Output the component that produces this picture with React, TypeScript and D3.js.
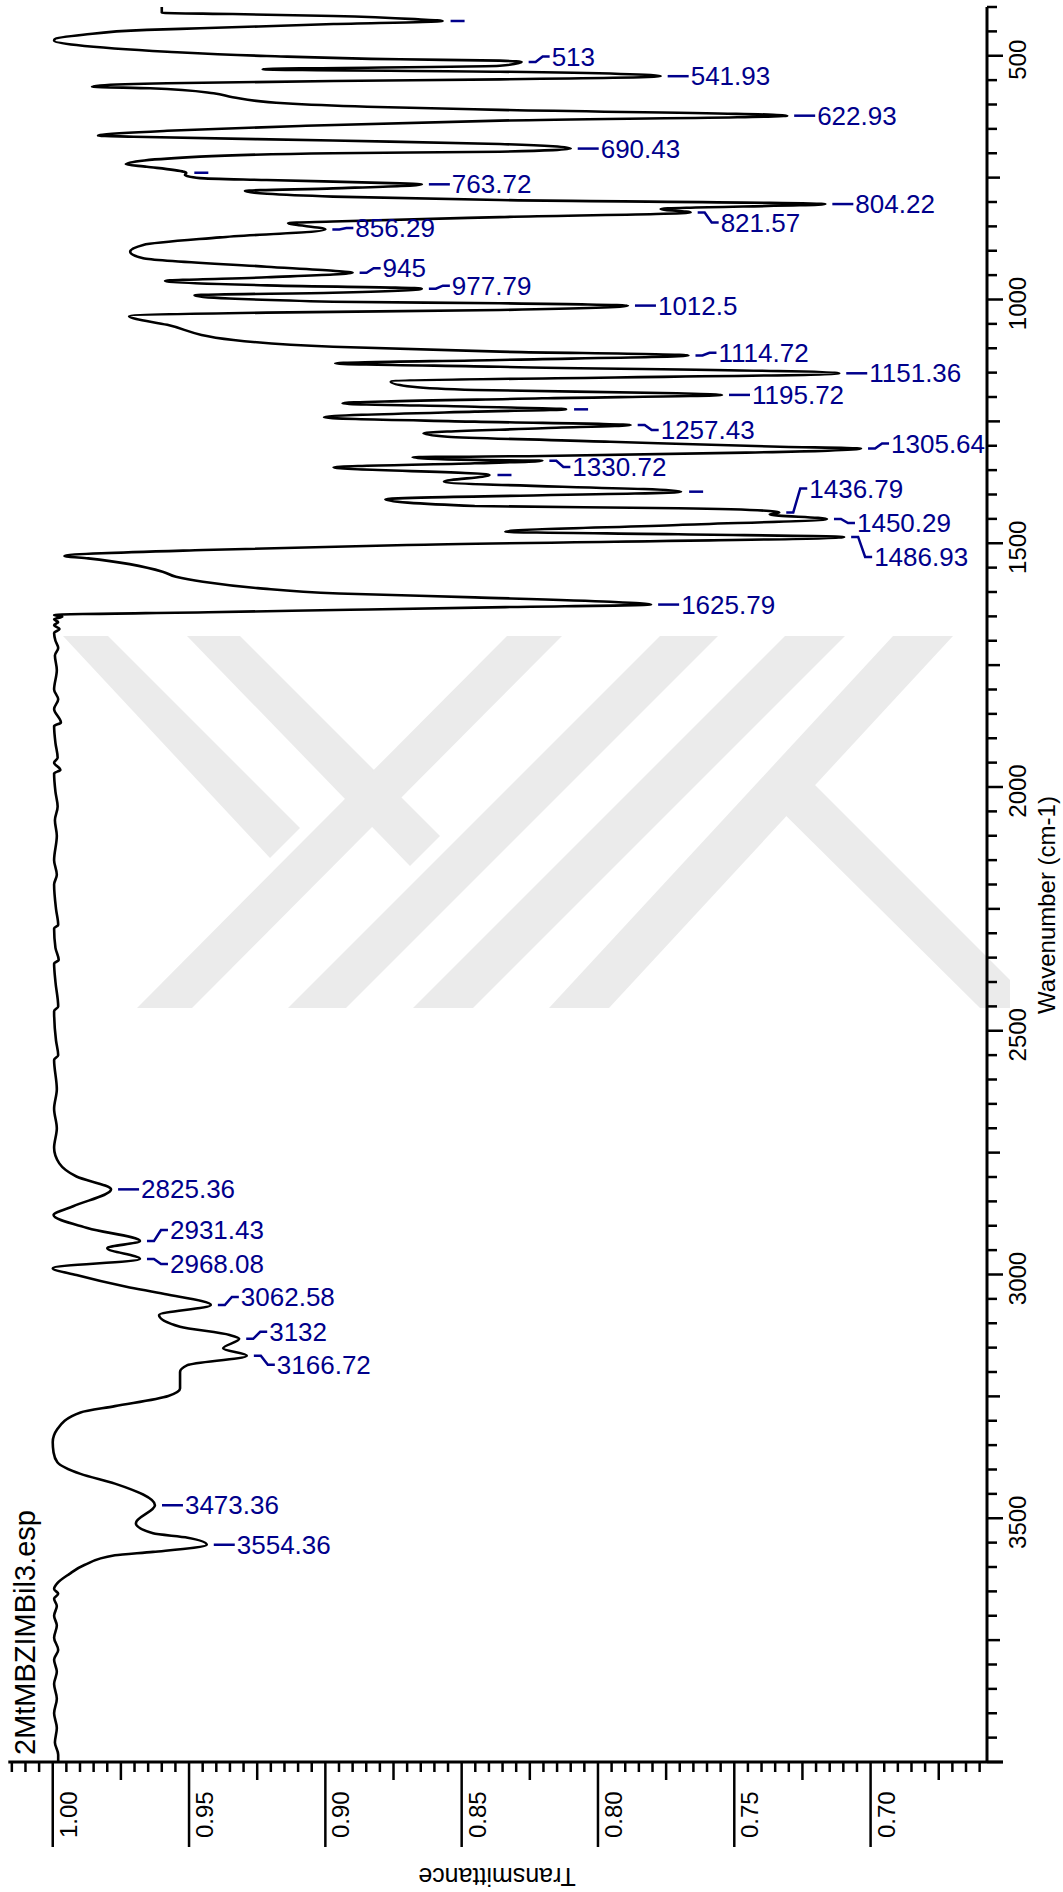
import React from "react";
import * as d3 from "d3";

const W = 1063;
const H = 1892;

// ---- spectrum data: [wavenumber (cm-1), transmittance] ----
const fingerprintA: [number, number][] = [
  [400, 0.96], [412, 0.96], [414.4, 0.934], [418.5, 0.897], [425.3, 0.866], [428.7, 0.857],
  [435, 0.897], [443.7, 0.946], [447, 0.9655], [457, 0.9888], [466, 0.9993], [469, 0.9995],
  [478, 0.9913], [491.7, 0.958], [500.5, 0.9215], [507.3, 0.8726], [510, 0.836], [513, 0.828],
  [520.4, 0.836], [527.8, 0.923], [532.7, 0.836], [541.93, 0.777], [548.4, 0.836], [551.8, 0.897],
  [556.5, 0.958], [561, 0.9826], [563.5, 0.9856], [566.8, 0.9643], [577, 0.941], [585, 0.934],
  [597.5, 0.915], [604.5, 0.8847], [611, 0.836], [622.93, 0.7306], [633, 0.836], [644, 0.9093],
  [654, 0.958], [662.6, 0.9826], [664, 0.9834], [666, 0.9704], [674, 0.8972], [681, 0.836],
  [690.43, 0.81], [696.8, 0.836], [700, 0.8972], [707, 0.946], [722.7, 0.9732],
];

const fingerprintB: [number, number][] = [
  [727.6, 0.9655], [737.8, 0.952], [740, 0.951], [744.6, 0.9515], [751, 0.946], [755, 0.9215],
  [761.7, 0.8726], [763.72, 0.8646], [772, 0.8972], [777.4, 0.9295], [789, 0.8972], [796, 0.836],
  [804.22, 0.7166], [814.4, 0.777], [821.57, 0.766], [831, 0.836], [840, 0.8972], [843, 0.9137],
  [856.29, 0.9], [872.5, 0.9386], [888, 0.9668], [902, 0.9716], [915.5, 0.9668], [932.7, 0.9215],
  [941, 0.8972], [945, 0.89], [954.5, 0.9215], [962, 0.9588], [971, 0.9215], [977.79, 0.8646],
  [986, 0.8972], [991.4, 0.948], [1004.5, 0.8972], [1007.8, 0.836], [1012.5, 0.789], [1021.5, 0.836],
  [1027, 0.9215], [1034, 0.972], [1052, 0.958], [1083, 0.9337], [1097, 0.8972], [1107, 0.836],
  [1114.72, 0.7668], [1124, 0.836], [1131, 0.8964], [1138, 0.836], [1151.36, 0.7115],
];

const fingerprintC: [number, number][] = [
  [1168.6, 0.876], [1179, 0.868], [1185.6, 0.845], [1192.4, 0.771], [1195.72, 0.7545],
  [1202.7, 0.8205], [1213, 0.8937], [1220, 0.8452], [1225.3, 0.8117], [1230, 0.8452],
  [1241.7, 0.9005], [1250.6, 0.8452], [1257.43, 0.788], [1264, 0.8204], [1274.6, 0.864],
  [1281.4, 0.8552], [1291.7, 0.7956], [1302, 0.7333], [1305.64, 0.7035], [1314.2, 0.7457],
  [1321, 0.8204], [1323.7, 0.868], [1329, 0.8452], [1330.72, 0.8204], [1336, 0.8452],
  [1344.2, 0.897], [1360, 0.8398], [1373.7, 0.8565], [1394.2, 0.7695], [1409.8, 0.878],
  [1423.6, 0.8452], [1428.3, 0.7706], [1433.8, 0.737], [1436.79, 0.7335], [1441, 0.737],
  [1450.29, 0.716], [1462.6, 0.7706], [1476.3, 0.834], [1481.6, 0.7706], [1486.93, 0.7097],
  [1503.6, 0.8701], [1513.8, 0.9447], [1526, 0.9957], [1531, 0.987], [1558.3, 0.9597],
  [1568.6, 0.9548], [1579, 0.9449], [1592, 0.9248], [1603, 0.895], [1611, 0.8452],
  [1620, 0.7956], [1625.79, 0.7805], [1631, 0.834], [1636.5, 0.891], [1641.5, 0.943],
];

const baselineRegion: [number, number][] = [
  [1647, 0.9995], [1651, 0.9965], [1656, 0.9995], [1662, 0.998], [1668, 0.9995], [1676, 0.9975],
  [1684, 0.9995], [1700, 0.999], [1715, 0.998], [1730, 0.9992], [1760, 0.9985], [1800, 0.9995],
  [1820, 0.998], [1840, 0.9995], [1868, 0.997], [1875, 0.9995], [1910, 0.999], [1940, 0.9982],
  [1950, 0.9995], [1965, 0.9972], [1972, 0.9995], [2010, 0.999], [2040, 0.9982], [2068, 0.9992],
  [2100, 0.9985], [2150, 0.9995], [2180, 0.9985], [2200, 0.9995], [2250, 0.9988], [2283, 0.998],
  [2290, 0.9995], [2330, 0.999], [2355, 0.9978], [2362, 0.9995], [2400, 0.999], [2450, 0.998],
  [2460, 0.9995], [2520, 0.9988], [2550, 0.998], [2560, 0.9995], [2620, 0.9985], [2660, 0.9995],
  [2700, 0.9985], [2740, 0.9995], [2772, 0.9976],
];

const chRegion: [number, number][] = [
  [2799, 0.9913], [2825.36, 0.9786], [2860, 0.9925], [2878, 0.9997], [2905, 0.987],
  [2931.43, 0.968], [2946, 0.98], [2968.08, 0.968], [2987, 1.0], [3001, 0.9913], [3025, 0.973],
  [3040, 0.959], [3062.58, 0.942], [3083, 0.961], [3107, 0.9533], [3124, 0.9351], [3132, 0.9316],
  [3151.5, 0.9375], [3166.72, 0.9288], [3186, 0.9506], [3200, 0.9533], [3234, 0.9533],
  [3249, 0.9576], [3270, 0.9772], [3283, 0.9898], [3317, 0.9983],
];

const ohRegion: [number, number][] = [
  [3344, 1.0], [3365, 0.9997], [3385, 0.9983], [3409, 0.9898], [3429, 0.9772], [3473.36, 0.9625],
  [3510, 0.9695], [3531, 0.9632], [3540, 0.9505], [3554.36, 0.9435], [3569, 0.9632],
  [3576, 0.9772], [3596, 0.9884], [3615, 0.9941], [3633, 0.9983], [3645, 0.9995], [3655, 0.998],
  [3665, 0.9995], [3680, 0.9985], [3700, 0.9995], [3720, 0.9985], [3745, 0.9995], [3770, 0.998],
  [3790, 0.9995], [3815, 0.9985], [3840, 0.9995], [3870, 0.9985], [3900, 0.9995], [3930, 0.9985],
  [3960, 0.9992], [3985, 0.998], [4000, 0.998],
];

// ---- peak annotations ----
const peakWavenumbers = [
  428.7, 513, 541.93, 622.93, 690.43, 740, 763.72, 804.22, 821.57, 856.29, 945, 977.79, 1012.5,
  1114.72, 1151.36, 1195.72, 1225.3, 1257.43, 1305.64, 1330.72, 1360, 1394.2, 1436.79, 1450.29,
  1486.93, 1625.79, 2825.36, 2931.43, 2968.08, 3062.58, 3132, 3166.72, 3473.36, 3554.36,
];
const peakTexts = [
  "", "513", "541.93", "622.93", "690.43", "", "763.72", "804.22", "821.57", "856.29", "945",
  "977.79", "1012.5", "1114.72", "1151.36", "1195.72", "", "1257.43", "1305.64", "1330.72", "", "",
  "1436.79", "1450.29", "1486.93", "1625.79", "2825.36", "2931.43", "2968.08", "3062.58", "3132",
  "3166.72", "3473.36", "3554.36",
];

// vertical offset of each label from its peak tip (layout, px)
const labelShift: Record<string, number> = {
  "513": -5.5, "821.57": 10, "856.29": -1.5, "945": -4.5, "977.79": -3, "1114.72": -2.7,
  "1257.43": 5, "1305.64": -5, "1330.72": 6.3, "1436.79": -24, "1450.29": 4, "1486.93": 20,
  "2931.43": -11, "2968.08": 5, "3062.58": -8, "3132": -7, "3166.72": 9,
};

// ---- axis ticks ----
const wnMajor = [500, 1000, 1500, 2000, 2500, 3000, 3500];
const tMajor = [1.0, 0.95, 0.9, 0.85, 0.8, 0.75, 0.7];

const FONT = "'Liberation Sans', Arial, Helvetica, sans-serif";
const BLUE = "#00008b";

const xScale = d3.scaleLinear().domain([1.0163, 0.6573]).range([8.3, 987]);
const yScale = d3.scaleLinear().domain([400, 4000]).range([7, 1762]);

// watermark bands (layout only)
const watermark: [number, number][][] = [
  [[63, 636], [108, 636], [300, 828], [270, 858]],
  [[187, 636], [240, 636], [440, 836], [410, 866]],
  [[507, 636], [562, 636], [192, 1008], [137, 1008]],
  [[660, 636], [718, 636], [346, 1008], [288, 1008]],
  [[785, 636], [845, 636], [473, 1008], [413, 1008]],
  [[893, 636], [953, 636], [609, 1008], [549, 1008]],
  [[760, 790], [790, 760], [1010, 980], [1010, 1008], [980, 1008]],
];

export default function App() {
  const all = [
    ...fingerprintA, ...fingerprintB, ...fingerprintC, ...baselineRegion, ...chRegion, ...ohRegion,
  ];
  const line = d3
    .line<[number, number]>()
    .x((d) => xScale(d[1]))
    .y((d) => yScale(d[0]))
    .curve(d3.curveMonotoneY);

  const lookup = (wn: number) => {
    let best = all[0];
    for (const p of all) if (Math.abs(p[0] - wn) < Math.abs(best[0] - wn)) best = p;
    return best;
  };

  const wnTicks = d3.range(400, 4001, 50);
  const tTicks = d3.range(0, 72).map((i) => +(1.015 - i * 0.005).toFixed(3)).filter((t) => t >= 0.66);

  const labels = peakWavenumbers.map((wn, i) => {
    const p = lookup(wn);
    const tx = xScale(p[1]);
    const ty = yScale(wn);
    const text = peakTexts[i];
    if (text === "") {
      return (
        <line key={i} x1={tx + 8} x2={tx + 22} y1={ty} y2={ty} stroke={BLUE} strokeWidth={2.5} />
      );
    }
    const dy = labelShift[text] ?? 0;
    const s = tx + 7;
    const pts: [number, number][] =
      dy === 0
        ? [[s, ty], [s + 21, ty]]
        : [[s, ty], [s + 7, ty], [s + 14, ty + dy], [s + 21, ty + dy]];
    return (
      <g key={i}>
        <polyline points={pts.map((q) => q.join(",")).join(" ")} fill="none" stroke={BLUE} strokeWidth={2.5} />
        <text x={s + 23} y={ty + dy} dy="0.35em" fontSize={26} fill={BLUE} fontFamily={FONT}>
          {text}
        </text>
      </g>
    );
  });

  return (
    <div style={{ position: "absolute", left: 0, top: 0 }}>
      <svg width={W} height={H} viewBox={`0 0 ${W} ${H}`} style={{ display: "block", background: "#fff" }}>
        <g fill="#ebebeb">
          {watermark.map((poly, i) => (
            <polygon key={i} points={poly.map((q) => q.join(",")).join(" ")} />
          ))}
        </g>

        {/* spectrum */}
        <path d={line(all) ?? ""} fill="none" stroke="#000" strokeWidth={2.6} strokeLinejoin="round" />

        {labels}

        {/* right (wavenumber) axis */}
        <line x1={987} x2={987} y1={yScale(400)} y2={yScale(4000)} stroke="#000" strokeWidth={3} />
        {wnTicks.map((wn) => {
          const major = wn % 500 === 0;
          const medium = !major && wn % 250 === 0;
          const len = major ? 16 : medium ? 13 : 10;
          return (
            <line key={wn} x1={987} x2={987 + len} y1={yScale(wn)} y2={yScale(wn)} stroke="#000" strokeWidth={2.5} />
          );
        })}
        {wnMajor.map((wn) => (
          <text
            key={wn}
            transform={`translate(1026,${yScale(wn) + 4}) rotate(-90)`}
            textAnchor="middle"
            fontSize={24}
            fontFamily={FONT}
          >
            {wn}
          </text>
        ))}
        <text transform={`translate(1055,905) rotate(-90)`} textAnchor="middle" fontSize={24} fontFamily={FONT}>
          Wavenumber (cm-1)
        </text>

        {/* bottom (transmittance) axis */}
        <line x1={8.3} x2={1003} y1={1762} y2={1762} stroke="#000" strokeWidth={3} />
        {tTicks.map((t) => {
          const k = Math.round(t * 1000);
          const major = k % 50 === 0;
          const medium = !major && k % 25 === 0;
          const len = major ? 85 : medium ? 18 : 10;
          return (
            <line key={k} x1={xScale(t)} x2={xScale(t)} y1={1762} y2={1762 + len} stroke="#000" strokeWidth={2.5} />
          );
        })}
        {tMajor.map((t) => (
          <text
            key={t}
            transform={`translate(${xScale(t) + 24},1838) rotate(-90)`}
            textAnchor="start"
            fontSize={24}
            fontFamily={FONT}
          >
            {t.toFixed(2)}
          </text>
        ))}
        <text transform={`translate(497,1868) rotate(180)`} textAnchor="middle" fontSize={25} fontFamily={FONT}>
          Transmittance
        </text>

        <text transform={`translate(35,1755) rotate(-90)`} textAnchor="start" fontSize={29} fontFamily={FONT}>
          2MtMBZIMBil3.esp
        </text>
      </svg>
    </div>
  );
}
